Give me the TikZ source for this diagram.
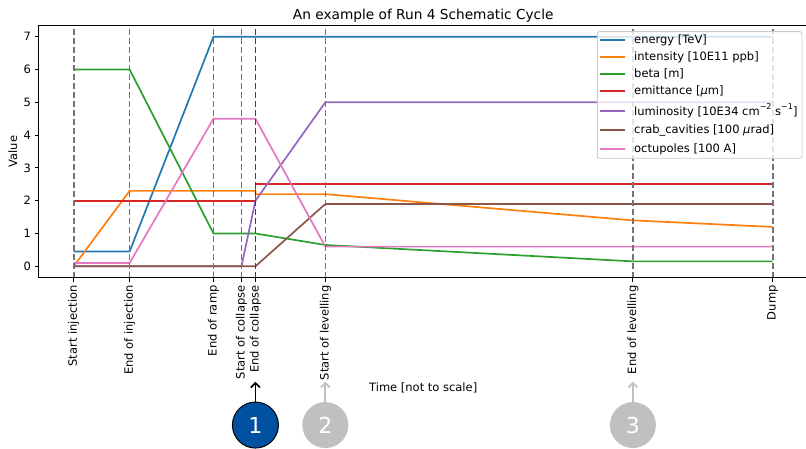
\documentclass[tikz,border=0pt]{standalone}
\usepackage{fontspec}
\setmainfont{DejaVu Sans}
\usetikzlibrary{arrows.meta}

\definecolor{cblue}{HTML}{1F77B4}
\definecolor{corange}{HTML}{FF7F0E}
\definecolor{cgreen}{HTML}{2CA02C}
\definecolor{cred}{HTML}{D62728}
\definecolor{cpurple}{HTML}{9467BD}
\definecolor{cbrown}{HTML}{8C564B}
\definecolor{cpink}{HTML}{E377C2}
\definecolor{markblue}{HTML}{0052A0}
\definecolor{markgray}{HTML}{C0C0C0}

\newcommand{\powr}[1]{\raisebox{0.9ex}{\fontsize{8}{9}\selectfont #1}}

\tikzset{
  curve/.style={line width=1.7pt, line join=round},
  eventline/.style={line width=1.6pt, black!55, dash pattern=on 6.2pt off 2.8pt},
  tickmark/.style={line width=0.9pt},
  stepmark/.style={circle, minimum size=46pt, inner sep=0pt, text=white,
    font=\fontsize{22}{24}\selectfont},
  steparrow/.style={line width=1.7pt, -{Straight Barb[length=4.5pt,width=9pt]}},
}

\begin{document}
\begin{tikzpicture}[x=1pt,y=1pt,font=\fontsize{11.5}{13}\selectfont]
\useasboundingbox (0,0) rectangle (806,449);

\begin{scope}[shift={(73.7,182.7)},x=27.96pt,y=32.8pt]
% curves
\draw[curve, cblue] (0,0.45) -- (2,0.45) -- (5,7) -- (25,7);
\draw[curve, corange] (0,0) -- (2,2.3) -- (6.5,2.3) -- (6.5,2.2) -- (9,2.2) -- (20,1.4) -- (25,1.2);
\draw[curve, cgreen] (0,6) -- (2,6) -- (5,1) -- (6.5,1) -- (9,0.65) -- (20,0.15) -- (25,0.15);
\draw[curve, cred] (0,2) -- (6.5,2) -- (6.5,2.5) -- (25,2.5);
\draw[curve, cpurple] (0,0) -- (6,0) -- (6.5,2) -- (9,5) -- (25,5);
\draw[curve, cbrown] (0,0) -- (6.5,0) -- (9,1.9) -- (25,1.9);
\draw[curve, cpink] (0,0.1) -- (2,0.1) -- (5,4.5) -- (6.5,4.5) -- (9,0.6) -- (25,0.6);

% events
\foreach \t/\lbl [count=\i] in {0/Start injection, 2/End of injection, 5/End of ramp,
    6/Start of collapse, 6.5/End of collapse, 9/Start of levelling,
    20/End of levelling, 25/Dump} {
  \draw[eventline] (\t,-0.35) -- (\t,7.35);
  \draw[tickmark] (\t,-0.35) -- ++(0,-4pt);
  \node[rotate=90, anchor=east, inner sep=0pt] (ev\i) at ([yshift=-7.5pt]\t,-0.35) {\lbl};
}
\draw[eventline, black!75] (6.5,-0.35) -- (6.5,7.35);

% axes
\draw[tickmark] (-1.25,-0.35) rectangle (26.25,7.35);
\foreach \v in {0,...,7} {
  \draw[tickmark] (-1.25,\v) -- ++(-4pt,0);
  \node[anchor=east, inner sep=0pt] (yt\v) at ([xshift=-7.5pt]-1.25,\v) {\v};
}
\node[rotate=90] (ylabel) at (-2.18,3.5) {Value};
\node (xlabel) at (12.5,-3.72) {Time [not to scale]};
\node[anchor=base, font=\fontsize{13.7}{15}\selectfont] (title) at ([yshift=6pt]12.5,7.35)
  {An example of Run 4 Schematic Cycle};

% phase markers
\node[stepmark, fill=markblue, draw=black, line width=1pt] (m1) at (6.5,-4.84) {1};
\node[stepmark, fill=markgray] (m2) at (9,-4.84) {2};
\node[stepmark, fill=markgray] (m3) at (20,-4.84) {3};
\coordinate (a1) at (6.5,-3.52);
\coordinate (a2) at (9,-3.52);
\coordinate (a3) at (20,-3.52);
\draw[steparrow, black] (m1.north) -- (a1);
\draw[steparrow, markgray] (m2.north) -- (a2);
\draw[steparrow, markgray] (m3.north) -- (a3);
\end{scope}

% legend
\draw[black!20, fill=white, fill opacity=0.8, rounded corners=2pt, line width=0.9pt]
  (597.3,417.3) rectangle (802,290.7);
\foreach \y/\c/\txt [count=\i] in {409/cblue/energy [TeV],
    392/corange/intensity [10E11 ppb],
    375/cgreen/beta [m],
    358/cred/emittance [{\itshape μ}m],
    338/cpurple/luminosity [10E34 cm\powr{−2} s\powr{−1}],
    319/cbrown/crab\_cavities [100 {\itshape μ}rad],
    300/cpink/octupoles [100 A]} {
  \draw[curve, \c] (600,\y) -- (625,\y);
  \node[anchor=west, inner sep=0pt] (lg\i) at (634,\y) {\txt};
}
\end{tikzpicture}
\end{document}
